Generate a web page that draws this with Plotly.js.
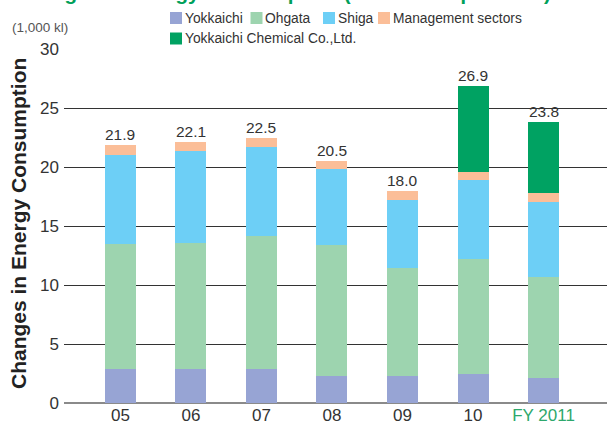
<!DOCTYPE html>
<html>
<head>
<meta charset="utf-8">
<script src="https://cdn.plot.ly/plotly-3.0.1.min.js"></script>
<style>html,body{margin:0;padding:0;background:#fff;}#chart{width:607px;height:425px;}</style>
</head>
<body>
<div id="chart"></div>
<script>
// ---- data ----
const categories = ['05', '06', '07', '08', '09', '10', 'FY 2011'];
const yokkaichi  = [2.9, 2.9, 2.9, 2.3, 2.3, 2.5, 2.1];
const ohgata     = [10.6, 10.65, 11.25, 11.1, 9.15, 9.7, 8.6];
const shiga      = [7.5, 7.8, 7.55, 6.4, 5.75, 6.7, 6.35];
const management = [0.9, 0.75, 0.8, 0.7, 0.8, 0.7, 0.75];
const yokkaichiChemical = [null, null, null, null, null, 7.3, 6.0];
const totals     = [21.9, 22.1, 22.5, 20.5, 18.0, 26.9, 23.8];
const totalLabels = ['21.9', '22.1', '22.5', '20.5', '18.0', '26.9', '23.8'];
const seriesNames = ['Yokkaichi', 'Ohgata', 'Shiga', 'Management sectors', 'Yokkaichi Chemical Co.,Ltd.'];
const yTickVals = [0, 5, 10, 15, 20, 25, 30];
const yTickText = ['0', '5', '10', '15', '20', '25', '30'];
const unitText = '(1,000 kl)';
const yTitle = 'Changes in Energy Consumption';
const chartTitle = 'Changes in Energy Consumption (crude oil equivalent)';

// ---- styling ----
const colors = ['#97a4d4', '#9dd4af', '#6dcff6', '#fbbe98', '#00a262'];
const FONT = 'Liberation Sans, Arial, Helvetica, sans-serif';
const W = 607, H = 425, L = 64, R = 0, T = 49, B = 22;
const pw = W - L - R, ph = H - T - B;
const px2x = p => (p - L) / pw;
const py2y = p => (H - B - p) / ph;

const seriesVals = [yokkaichi, ohgata, shiga, management, yokkaichiChemical];
const traces = seriesVals.map((vals, i) => ({
  type: 'bar',
  name: seriesNames[i],
  x: categories,
  y: vals,
  marker: {color: colors[i], line: {width: 0}},
  width: 0.44,
  hoverinfo: 'x+y+name'
}));

const tickText = categories.map((c, i) => i === categories.length - 1
  ? '<span style="color:#2ea86c">' + c + '</span>' : c);

// total labels (category index used as x position on the category axis)
const annotations = categories.map((c, i) => ({
  x: i, y: totals[i], xref: 'x', yref: 'y',
  text: totalLabels[i], showarrow: false, yanchor: 'bottom', yshift: 0,
  font: {family: FONT, size: 15.5, color: '#333333'}
}));

annotations.push({
  xref: 'paper', yref: 'paper', x: px2x(10), y: py2y(27),
  xanchor: 'left', yanchor: 'middle', showarrow: false,
  text: unitText, font: {family: FONT, size: 13.5, color: '#555555'}
});
annotations.push({
  xref: 'paper', yref: 'paper', x: px2x(18), y: py2y(224),
  xanchor: 'center', yanchor: 'middle', showarrow: false, textangle: -90,
  text: '<b>' + yTitle + '</b>', font: {family: FONT, size: 21, color: '#222222'}
});
// chart title: in the reference it sits above the picture's top edge, only its lowest strokes show
annotations.push({
  xref: 'paper', yref: 'paper', x: px2x(11), y: py2y(5.5),
  xanchor: 'left', yanchor: 'bottom', showarrow: false,
  text: '<b>' + chartTitle + '</b>', font: {family: FONT, size: 20.6, color: '#00a05a'}
});

// custom legend (square + label)
const legendPos = [[170, 18], [250.5, 18], [323, 18], [378, 18], [170, 38.5]];
const shapes = [];
seriesNames.forEach((n, i) => {
  const [lx, ly] = legendPos[i];
  shapes.push({
    type: 'rect', xref: 'paper', yref: 'paper',
    x0: px2x(lx), x1: px2x(lx + 12), y0: py2y(ly + 6), y1: py2y(ly - 6),
    fillcolor: colors[i], line: {width: 0}, layer: 'above'
  });
  annotations.push({
    xref: 'paper', yref: 'paper', x: px2x(lx + 12.5), y: py2y(ly),
    xanchor: 'left', yanchor: 'middle', showarrow: false,
    text: n, font: {family: FONT, size: 13.8, color: '#333333'}
  });
});

const layout = {
  width: W, height: H,
  margin: {l: L, r: R, t: T, b: B, pad: 0},
  paper_bgcolor: '#ffffff', plot_bgcolor: '#ffffff',
  barmode: 'stack',
  showlegend: false,
  font: {family: FONT, color: '#333333'},
  xaxis: {
    type: 'category', range: [-0.8, 6.9], fixedrange: true,
    tickvals: categories, ticktext: tickText,
    showgrid: false, showline: false, zeroline: false, ticks: '',
    tickfont: {family: FONT, size: 17, color: '#333333'},
    automargin: false
  },
  yaxis: {
    range: [0, 30], fixedrange: true,
    tickvals: yTickVals, ticktext: yTickText,
    showgrid: true, gridcolor: '#333333', gridwidth: 1,
    zeroline: true, zerolinecolor: '#8a8a8a', zerolinewidth: 2,
    showline: false, ticks: '', ticklabelstandoff: 4,
    tickfont: {family: FONT, size: 17, color: '#333333'},
    automargin: false
  },
  annotations: annotations,
  shapes: shapes
};

Plotly.newPlot('chart', traces, layout, {displayModeBar: false, staticPlot: true});
</script>
</body>
</html>
